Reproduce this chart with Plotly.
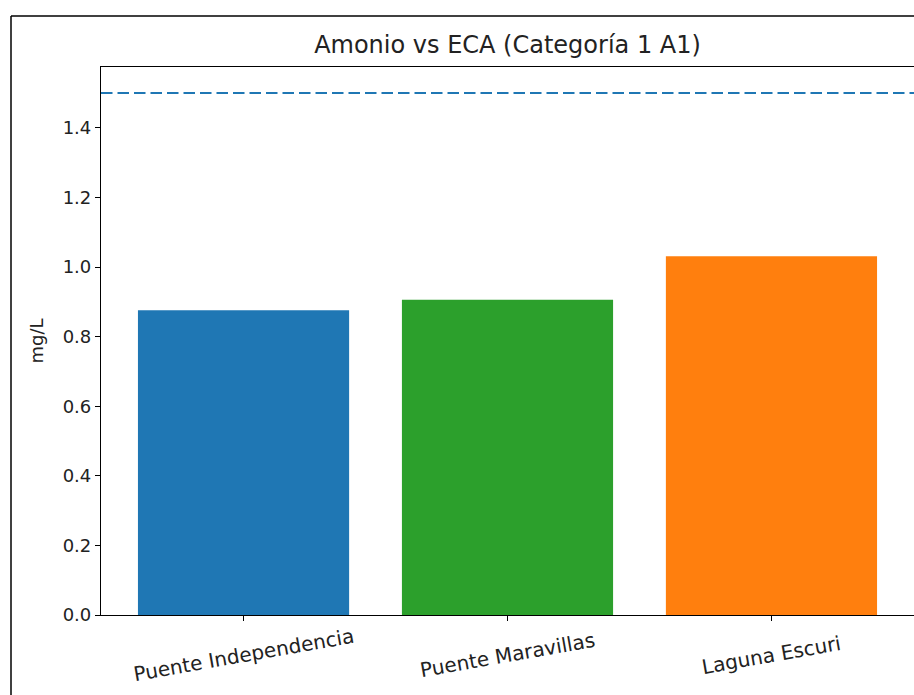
import plotly.graph_objects as go

categories = ["Puente Independencia", "Puente Maravillas", "Laguna Escuri"]
values = [0.876, 0.906, 1.031]
colors = ["#1f77b4", "#2ca02c", "#ff7f0e"]
eca_limit = 1.5
y_ticks = [0.0, 0.2, 0.4, 0.6, 0.8, 1.0, 1.2, 1.4]

W, H = 914, 695
L, R, T = 101, 0, 67
B = H - 615
pw, ph = W - L - R, H - T - B

fig = go.Figure()
fig.add_trace(go.Bar(x=categories, y=values, marker=dict(color=colors, line=dict(width=0)),
                     width=0.8, showlegend=False))

fig.add_shape(type="line", xref="paper", yref="y", x0=0, x1=1, y0=eca_limit, y1=eca_limit,
              line=dict(color="#1f77b4", width=2, dash="11.5px,5px"))

# outer frame (left and top edges)
fx = (11 - L) / pw
fy = 1 + (T - 16) / ph
fig.add_shape(type="line", xref="paper", yref="paper", x0=fx, x1=fx, y0=fy, y1=-0.3,
              line=dict(color="black", width=1.5))
fig.add_shape(type="line", xref="paper", yref="paper", x0=fx, x1=1.2, y0=fy, y1=fy,
              line=dict(color="black", width=1.5))

font = "DejaVu Sans, sans-serif"
for c in categories:
    fig.add_annotation(x=c, xref="x", y=-(655 - 615) / ph, yref="paper", text=c,
                       showarrow=False, textangle=-10, xanchor="center", yanchor="middle",
                       font=dict(family=font, size=20, color="#222"))

fig.update_layout(
    width=W, height=H,
    margin=dict(l=L, r=R, t=T, b=B),
    plot_bgcolor="white", paper_bgcolor="white",
    title=dict(text="Amonio vs ECA (Categoría 1 A1)", x=(L + pw / 2) / W, xanchor="center",
               y=1 - 45 / H, yanchor="middle", yref="container",
               font=dict(family=font, size=24, color="#222")),
    bargap=0.2,
    xaxis=dict(type="category", range=[-0.54, 2.54], showticklabels=False, ticks="outside",
               ticklen=5, tickcolor="black", showline=True, linecolor="black", linewidth=1.2,
               mirror=True, showgrid=False, zeroline=False),
    yaxis=dict(range=[0, 1.575], tickvals=y_ticks, ticktext=[f"{v:.1f}" for v in y_ticks],
               ticks="outside", ticklen=5, tickcolor="black", showline=True, linecolor="black",
               linewidth=1.2, mirror=True, showgrid=False, zeroline=False,
               tickfont=dict(family=font, size=18, color="#222"),
               title=dict(text="mg/L", standoff=14, font=dict(family=font, size=18, color="#222"))),
)

fig.write_html("out.html", config={"displayModeBar": False},
               post_script="document.body.style.margin='0';document.body.style.overflow='hidden';")
